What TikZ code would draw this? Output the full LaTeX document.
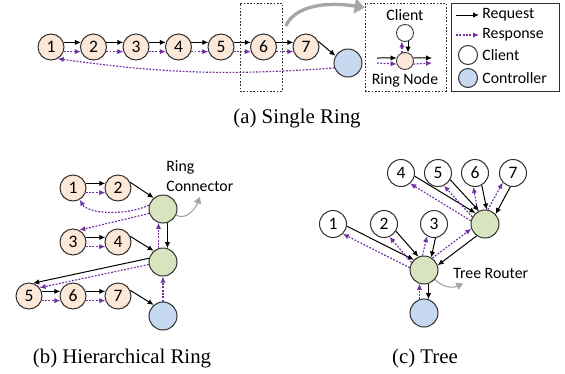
\documentclass[tikz,border=0pt]{standalone}
\usepackage{fontspec}
\setmainfont{Liberation Serif}
\newfontfamily\labelfont{Carlito}
\usetikzlibrary{arrows.meta}

\definecolor{ringfill}{HTML}{FCE8D8}
\definecolor{routerfill}{HTML}{D7E4BD}
\definecolor{ctrlfill}{HTML}{C6D9F0}
\definecolor{resppurple}{HTML}{7030A0}
\definecolor{calloutgray}{HTML}{A6A6A6}
\definecolor{outline}{HTML}{303030}

\begin{document}
\begin{tikzpicture}[x=0.6pt, y=0.6pt,
    every node/.style={font=\labelfont\fontsize{9.5}{12}\selectfont, inner sep=0pt},
    ringnode/.style={circle, draw=outline, line width=0.6pt, fill=ringfill, minimum size=15.6pt, font=\labelfont\fontsize{10.5}{12}\selectfont},
    leaf/.style={ringnode, fill=white, minimum size=16.2pt},
    router/.style={circle, draw=outline, line width=0.6pt, fill=routerfill, minimum size=16.8pt},
    ctrl/.style={circle, draw=outline, line width=0.6pt, fill=ctrlfill, minimum size=16.8pt},
    dashbox/.style={draw=outline, line width=0.5pt, dash pattern=on 1pt off 1pt, minimum height=52.8pt},
    req/.style={-{Latex[length=3.6pt,width=3.2pt]}, line width=0.6pt, black},
    resp/.style={-{Latex[length=3.6pt,width=3.2pt]}, line width=0.7pt, resppurple, dash pattern=on 1.1pt off 0.9pt},
    callout/.style={-{Triangle[length=4pt,width=4.5pt]}, line width=0.7pt, calloutgray},
    bigarrow/.style={-{Triangle[length=6pt,width=9pt]}, line width=2pt, calloutgray},
    caption/.style={font=\rmfamily\fontsize{12.5}{15}\selectfont}]
    \useasboundingbox (0,0) rectangle (565,-373);

    % (a) Single Ring
    \foreach \i in {1,...,7}
        \node[ringnode] (s\i) at ({51+42.5*(\i-1)},-47) {\i};
    \node[ctrl] (sc) at (348,-63) {};
    \foreach \i in {1,...,6} {
        \pgfmathtruncatemacro\j{\i+1}
        \draw[req] (s\i.20) -- (s\j.160);
        \draw[resp] (s\i.-20) -- (s\j.-160);
    }
    \draw[req] (s7.25) -- (sc.150);
    \draw[resp] (sc.200) to[bend left=6] (s1.-60);

    \node[dashbox, minimum width=25.2pt] (focus) at (261,-47) {};
    \node[dashbox, minimum width=48.6pt] (inset) at (405.5,-47) {};
    \node[draw=outline, line width=0.6pt, minimum width=64.8pt, minimum height=52.8pt] (legend) at (505,-47) {};
    \draw[bigarrow] ([xshift=2pt,yshift=-14pt]focus.north east) .. controls (296,-4) and (330,-2) .. ([yshift=-3pt]inset.north west);

    % zoomed ring node
    \node (clienttxt) at (405,-15) {Client};
    \node[circle, draw=outline, line width=0.5pt, fill=white, minimum size=10.2pt] (ic) at (405,-33) {};
    \node[circle, draw=outline, line width=0.5pt, fill=ringfill, minimum size=10.2pt] (ir) at (405,-61) {};
    \node (ringtxt) at (405,-80) {Ring Node};
    \coordinate (inreq) at (377,-58);
    \coordinate (inresp) at (377,-63);
    \coordinate (outreq) at (432,-58);
    \coordinate (outresp) at (432,-63);
    \draw[req] (inreq) -- (ir.160);
    \draw[req] (ir.20) -- (outreq);
    \draw[resp] (inresp) -- (ir.200);
    \draw[resp] (ir.-20) -- (outresp);
    \draw[req] (ic.-70) -- (ir.70);
    \draw[resp] (ir.110) -- (ic.-110);

    % legend
    \coordinate (lreqa) at (456,-15);
    \coordinate (lreqb) at (479,-15);
    \coordinate (lrespa) at (456,-35);
    \coordinate (lrespb) at (479,-35);
    \draw[req] (lreqa) -- (lreqb);
    \draw[resp] (lrespa) -- (lrespb);
    \node[anchor=west] (reqtxt) at (482,-15) {Request};
    \node[anchor=west] (resptxt) at (482,-35) {Response};
    \node[circle, draw=outline, line width=0.6pt, fill=white, minimum size=11.4pt] (lclient) at (468,-55) {};
    \node[circle, draw=outline, line width=0.6pt, fill=ctrlfill, minimum size=11.4pt] (lctrl) at (468,-78) {};
    \node[anchor=west] (clientkey) at (482,-55) {Client};
    \node[anchor=west] (ctrlkey) at (482,-78) {Controller};

    \node[caption, anchor=base] (capa) at (297,-123) {(a) Single Ring};

    % (b) Hierarchical Ring
    \node[ringnode] (h1) at (73,-188) {1};
    \node[ringnode] (h2) at (118,-188) {2};
    \node[ringnode] (h3) at (73,-242) {3};
    \node[ringnode] (h4) at (118,-242) {4};
    \node[ringnode] (h5) at (29,-296) {5};
    \node[ringnode] (h6) at (73,-296) {6};
    \node[ringnode] (h7) at (118,-296) {7};
    \node[router] (g1) at (163,-209) {};
    \node[router] (g2) at (163,-262) {};
    \node[ctrl] (hc) at (163,-316) {};
    \foreach \a/\b in {h1/h2,h3/h4,h5/h6,h6/h7} {
        \draw[req] (\a.20) -- (\b.160);
        \draw[resp] (\a.-20) -- (\b.-160);
    }
    \draw[req] (h2.25) -- (g1.130);
    \draw[req] (h4.25) -- (g2.130);
    \draw[req] (h7.25) -- (hc.130);
    \draw[resp] (g1.165) .. controls (125,-216) and (88,-214) .. (h1.-60);
    \draw[resp] (g1.198) -- (h3.62);
    \draw[req] (g1.-72) -- (g2.72);
    \draw[resp] (g2.108) -- (g1.-108);
    \draw[req] (g2.165) -- (h5.72);
    \draw[resp] (g2.190) -- (h5.38);
    \draw[resp] (hc.90) -- (g2.-90);
    \node[anchor=west, align=left] (rclabel) at (166,-176) {Ring\\Connector};
    \draw[callout] (g1.-25) to[out=-30, in=-110] ([yshift=-3pt]rclabel.south);

    \node[caption, anchor=base] (capb) at (122,-363) {(b) Hierarchical Ring};

    % (c) Tree
    \foreach \i/\x in {4/401,5/438,6/475,7/513}
        \node[leaf] (t\i) at (\x,-173) {\i};
    \foreach \i/\x in {1/333,2/384,3/434}
        \node[leaf] (t\i) at (\x,-224) {\i};
    \node[router] (r1) at (485,-224) {};
    \node[router] (r0) at (424,-270) {};
    \node[ctrl] (tc) at (424,-313) {};
    \foreach \a/\b/\t in {t4/r1/-31, t5/r1/-47, t6/r1/-79, t7/r1/-119,
                          t1/r0/-27, t2/r0/-49, t3/r0/-102, r1/r0/-143, r0/tc/-90} {
        \pgfmathtruncatemacro\sa{\t+18}
        \pgfmathtruncatemacro\sb{\t+162}
        \pgfmathtruncatemacro\da{\t+198}
        \pgfmathtruncatemacro\db{\t-18}
        \draw[req] (\a.\sa) -- (\b.\sb);
        \draw[resp] (\b.\da) -- (\a.\db);
    }
    \node[anchor=west] (trlabel) at (453,-273) {Tree Router};
    \draw[callout] (r0.-40) to[out=-50, in=205] ([xshift=6pt,yshift=-3pt]trlabel.south west);

    \node[caption, anchor=base] (capc) at (425,-363) {(c) Tree};
\end{tikzpicture}
\end{document}
